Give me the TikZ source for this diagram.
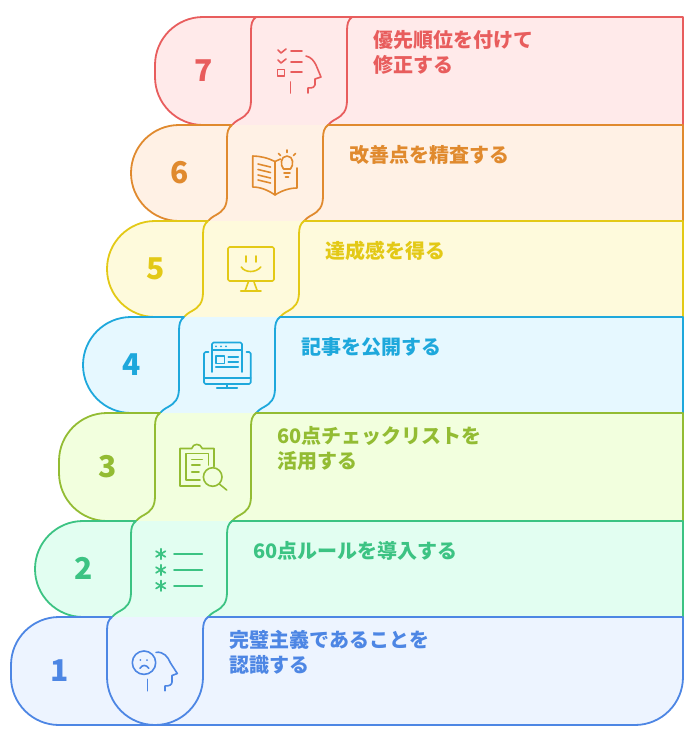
\documentclass[tikz,border=0pt]{standalone}
\usepackage{fontspec}
\setmainfont{Noto Sans CJK JP}
\definecolor{line7}{HTML}{E85D5D}\definecolor{fill7}{HTML}{FFEAEA}
\definecolor{line6}{HTML}{E08A2E}\definecolor{fill6}{HTML}{FFF1E5}
\definecolor{line5}{HTML}{E3C916}\definecolor{fill5}{HTML}{FEFADC}
\definecolor{line4}{HTML}{1EA8DC}\definecolor{fill4}{HTML}{E6F8FF}
\definecolor{line3}{HTML}{93BC33}\definecolor{fill3}{HTML}{F2FFDE}
\definecolor{line2}{HTML}{3CC383}\definecolor{fill2}{HTML}{E2FEF1}
\definecolor{line1}{HTML}{4D86E4}\definecolor{fill1}{HTML}{EDF4FF}
\tikzset{
  outline/.style={line width=1.8pt,line join=round,line cap=round},
  icon/.style={line width=1.6pt,line join=round,line cap=round,fill=none},
  digitlabel/.style={font=\bfseries\fontsize{30}{30}\selectfont,inner sep=0pt,anchor=center},
  steplabel/.style={font=\bfseries\fontsize{20}{24.5}\selectfont,inner sep=0pt,anchor=west,align=left},
}
\begin{document}
\begin{tikzpicture}[x=1pt,y=-1pt]
\useasboundingbox (0,0) rectangle (696,742);
\foreach \n/\L/\T/\B in {7/155/17/125,6/131/125/221,5/107/221/317,4/83/317/413,3/59/413/521,2/35/521/617}{
  \pgfmathsetmacro{\D}{\L+96}
  \pgfmathsetmacro{\Rr}{\L+192}
  % row area
  \fill[fill\n] (\L+48,\T) -- (683,\T) -- (683,\B) -- (\L+48,\B)
     .. controls (\L+21.5,\B) and (\L,\B-21.5) .. (\L,\B-48) -- (\L,\T+48)
     .. controls (\L,\T+21.5) and (\L+21.5,\T) .. (\L+48,\T) -- cycle;
  % left part
  \draw[outline,line\n] (\L+48,\B) .. controls (\L+21.5,\B) and (\L,\B-21.5) .. (\L,\B-48) -- (\L,\T+48)
     .. controls (\L,\T+21.5) and (\L+21.5,\T) .. (\L+48,\T) -- (\D+5,\T)
     .. controls (\D+1,\T+3) and (\D,\T+7) .. (\D,\T+14) -- (\D,\B-25)
     .. controls (\D,\B-14) and (\D-4,\B-10) .. (\D-11,\B-6)
     .. controls (\D-15,\B-4) and (\D-17,\B-2) .. (\D-19,\B);
  % right part
  \draw[outline,line\n] (683,\B) -- (683,\T) -- (\Rr+5,\T)
     .. controls (\Rr+1,\T+3) and (\Rr,\T+7) .. (\Rr,\T+14) -- (\Rr,\B-25)
     .. controls (\Rr,\B-14) and (\Rr-4,\B-10) .. (\Rr-11,\B-6)
     .. controls (\Rr-15,\B-4) and (\Rr-17,\B-2) .. (\Rr-19,\B);
}
% top row: closing line between the dividers
\draw[outline,line7] (256,17) -- (352,17);
% row 1
\fill[fill1] (59,617) -- (683,617) -- (683,677) .. controls (683,703.5) and (661.5,725) .. (635,725) -- (59,725)
   .. controls (32.5,725) and (11,703.5) .. (11,677) -- (11,665) .. controls (11,638.5) and (32.5,617) .. (59,617) -- cycle;
\draw[outline,line1] (112,617) -- (59,617) .. controls (32.5,617) and (11,638.5) .. (11,665) -- (11,677)
   .. controls (11,703.5) and (32.5,725) .. (59,725) -- (635,725)
   .. controls (661.5,725) and (683,703.5) .. (683,677) -- (683,617) -- (208,617)
   .. controls (204,620) and (203,624) .. (203,631) -- (203,677)
   .. controls (203,703.5) and (181.5,725) .. (155,725)
   .. controls (128.5,725) and (107,703.5) .. (107,677) -- (107,631)
   .. controls (107,624) and (108,620) .. (112,617);
% digits
\node[digitlabel,text=line7] (d7) at (204,70.5) {7};
\node[digitlabel,text=line6] (d6) at (180,172.5) {6};
\node[digitlabel,text=line5] (d5) at (156,268.5) {5};
\node[digitlabel,text=line4] (d4) at (132,364.5) {4};
\node[digitlabel,text=line3] (d3) at (108,466.5) {3};
\node[digitlabel,text=line2] (d2) at (84,568.5) {2};
\node[digitlabel,text=line1] (d1) at (60,670.5) {1};
% labels
\node[steplabel,text=line7] (t7) at (373,52.5) {優先順位を付けて\\修正する};
\node[steplabel,text=line6] (t6) at (349,154.5) {改善点を精査する};
\node[steplabel,text=line5] (t5) at (325,250.5) {達成感を得る};
\node[steplabel,text=line4] (t4) at (301.5,346.5) {記事を公開する};
\node[steplabel,text=line3] (t3) at (277,448.5) {60点チェックリストを\\活用する};
\node[steplabel,text=line2] (t2) at (253,550.5) {60点ルールを導入する};
\node[steplabel,text=line1] (t1) at (229,652.5) {完璧主義であることを\\認識する};
% icon 7
\begin{scope}[icon,draw=line7]
\draw (278,50) -- (281,53) -- (286,49);
\draw (278,60) -- (281,63) -- (286,59);
\draw (277.5,69.5) rectangle (284.5,76);
\draw (291,51) -- (302,51);
\draw (291,62) -- (302,62);
\draw (291,72) -- (302,72);
\draw (290.5,82) -- (290.5,93);
\draw (306,56) .. controls (311,57) and (314,61) .. (316,65) -- (321,77) -- (315,79) -- (315,85)
   .. controls (315,87) and (313,88) .. (308,88) -- (308,93);
\end{scope}
% icon 6
\begin{scope}[icon,draw=line6]
\draw (275,161.5) .. controls (268,158) and (260,156) .. (252.7,156) -- (252.7,187)
   .. controls (260,187) and (268,190) .. (275,195) -- cycle;
\draw (275,161.5) -- (280.5,159);
\draw (297,168) -- (297,188) .. controls (289,188) and (281,191) .. (275,195);
\draw (258,164) -- (270.5,167);
\draw (258,169.5) -- (270.5,172.5);
\draw (258,175) -- (270.5,178);
\draw (258,180) -- (270.5,183);
\draw (283.5,169) .. controls (280,165) and (280.5,156) .. (287,156)
   .. controls (293.5,156) and (294,165) .. (290.5,169) -- cycle;
\draw (284,173) -- (290,173);
\draw (285.5,177) -- (288.5,177);
\draw (278.5,153.5) -- (280.5,155.5);
\draw (287,150) -- (287,152.5);
\draw (295.5,153.5) -- (293.5,155.5);
\end{scope}
% icon 5
\begin{scope}[icon,draw=line5]
\draw[rounded corners=1.5pt] (228,247) rectangle (274,281);
\draw (245.7,256) -- (245.7,262);
\draw (256,256) -- (256,262);
\draw (241.3,267) .. controls (245,273) and (256,273) .. (260.7,267);
\draw (248.3,282) -- (245,291);
\draw (254,282) -- (257.3,291);
\draw (240.7,291) -- (261,291);
\end{scope}
% icon 4
\begin{scope}[icon,draw=line4]
\draw[rounded corners=1.5pt] (212,372) -- (212,342.5) -- (242,342.5) -- (242,372);
\draw (212,350) -- (242,350);
\fill[line4] (216,346.3) circle (1) (221,346.3) circle (1) (226,346.3) circle (1);
\draw (215.7,356) rectangle (224.3,363.3);
\draw (228.3,356.7) -- (238.3,356.7);
\draw (228.3,361.7) -- (238.3,361.7);
\draw (215.7,366.7) -- (238.3,366.7);
\draw[rounded corners=1.5pt] (208.5,352) -- (204,352) -- (204,384) -- (250.7,384) -- (250.7,352) -- (246.5,352);
\draw (204,377.7) -- (250.7,377.7);
\draw (226.7,384) -- (226.7,387.7);
\draw (216.7,387.7) -- (237.3,387.7);
\end{scope}
% icon 3
\begin{scope}[icon,draw=line3]
\draw (200,486) -- (180,486) -- (180,448.5) -- (191.7,448.5) .. controls (193,443) and (200.5,443) .. (202.3,448.5) -- (214,448.5) -- (214,466.5);
\draw (200,480) -- (185.7,480) -- (185.7,453.5) -- (208.3,453.5) -- (208.3,465);
\draw (191.7,459.3) -- (202.3,459.3);
\draw (191.7,465) -- (200,465);
\draw (191.7,471.7) -- (199,471.7);
\draw (212.7,477) circle (9.3);
\draw (219.3,484) -- (226.7,490);
\end{scope}
% icon 2
\begin{scope}[icon,draw=line2,line width=1.7pt]
\foreach \y in {554,570,585.7}{
  \draw (160.7,\y-5.2) -- (160.7,\y+5.2);
  \draw (156,\y-2.8) -- (165.4,\y+2.8);
  \draw (156,\y+2.8) -- (165.4,\y-2.8);
  \draw (174,\y) -- (202.3,\y);
}
\end{scope}
% icon 1
\begin{scope}[icon,draw=line1]
\draw (144,662.7) circle (11.7);
\fill[line1] (140.3,660) circle (1) (147,660) circle (1);
\draw (140,668.3) .. controls (142,664.5) and (146.5,664.5) .. (148.7,668.3);
\draw (147.3,679.3) -- (147.3,690.7);
\draw (156,652.3) .. controls (164,651.5) and (168,657) .. (170.5,663) -- (177.3,673.5) -- (172,675.5) -- (172,682)
   .. controls (172,685) and (169,686) .. (165,686) -- (165,690.7);
\end{scope}
\end{tikzpicture}
\end{document}
